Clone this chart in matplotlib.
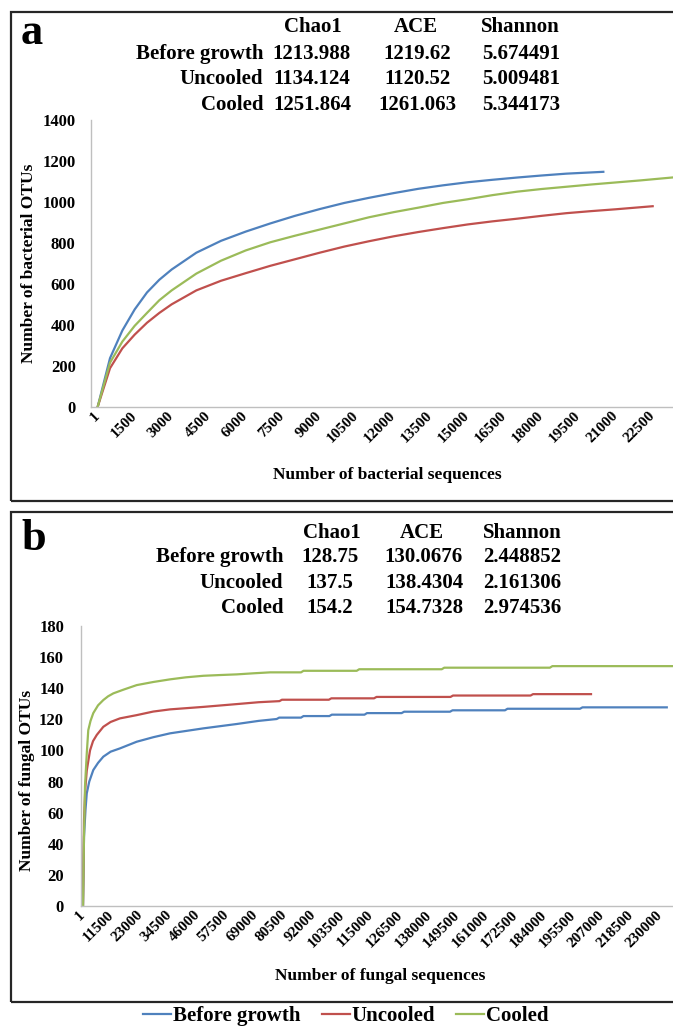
import matplotlib
matplotlib.use('Agg')
import matplotlib.pyplot as plt
from matplotlib.patches import Rectangle
from matplotlib.lines import Line2D

plt.rcParams['font.family'] = ['Liberation Serif', 'DejaVu Serif']
plt.rcParams['font.weight'] = 'bold'

W, H = 673, 1030

# ---------------- data ----------------
groups = ['Before growth', 'Uncooled', 'Cooled']
colors = ['#4F81BD', '#C0504D', '#9BBB59']
stat_cols = ['Chao1', 'ACE', 'Shannon']

bac_chao1 = ['1213.988', '1134.124', '1251.864']
bac_ace = ['1219.62', '1120.52', '1261.063']
bac_shannon = ['5.674491', '5.009481', '5.344173']

fun_chao1 = ['128.75', '137.5', '154.2']
fun_ace = ['130.0676', '138.4304', '154.7328']
fun_shannon = ['2.448852', '2.161306', '2.974536']

bac_ticks = [1, 1500, 3000, 4500, 6000, 7500, 9000, 10500, 12000, 13500,
             15000, 16500, 18000, 19500, 21000, 22500]
fun_ticks = [1, 11500, 23000, 34500, 46000, 57500, 69000, 80500, 92000, 103500,
             115000, 126500, 138000, 149500, 161000, 172500, 184000, 195500,
             207000, 218500, 230000]

bac_seq_before = [1, 500, 1000, 1500, 2000, 2500, 3000, 4000, 5000, 6000, 7000,
                  8000, 9000, 10000, 11000, 12000, 13000, 14000, 15000, 16000,
                  17000, 18000, 19000, 20000, 20500]
bac_otu_before = [0, 237, 372, 475, 558, 620, 670, 752, 810, 855, 895,
                  932, 965, 995, 1020, 1043, 1064, 1081, 1096, 1108,
                  1119, 1129, 1138, 1144, 1147]

bac_seq_uncooled = [1, 500, 1000, 1500, 2000, 2500, 3000, 4000, 5000, 6000, 7000,
                    8000, 9000, 10000, 11000, 12000, 13000, 14000, 15000, 16000,
                    17000, 18000, 19000, 20000, 21000, 22000, 22500]
bac_otu_uncooled = [0, 188, 285, 352, 410, 458, 500, 568, 615, 652, 688,
                    720, 752, 782, 808, 832, 853, 872, 890, 905,
                    918, 932, 945, 955, 964, 974, 979]

bac_seq_cooled = [1, 500, 1000, 1500, 2000, 2500, 3000, 4000, 5000, 6000, 7000,
                  8000, 9000, 10000, 11000, 12000, 13000, 14000, 15000, 16000,
                  17000, 18000, 19000, 20000, 21000, 22000, 23000, 24000]
bac_otu_cooled = [0, 215, 318, 395, 458, 520, 568, 650, 713, 763, 803,
                  835, 865, 895, 925, 950, 972, 995, 1013, 1033,
                  1050, 1063, 1074, 1085, 1095, 1105, 1116, 1127]

fun_seq_before = [1, 400, 1000, 1500, 2500, 4100, 6000, 8100, 11000, 14700,
                  21400, 28000, 34700, 48000, 61300, 70000, 77200, 78200,
                  86900, 87900, 98200, 99200, 112200, 113200, 127000, 128000,
                  146300, 147300, 168200, 169200, 198100, 199100, 232700]
fun_otu_before = [0, 44.5, 62, 72.4, 80, 87.4, 92, 96, 99.2, 101.3,
                  105.6, 108.5, 111, 114.2, 117, 119, 120.2, 121.1,
                  121.1, 122.1, 122.1, 123.0, 123.0, 124.0, 124.0, 124.9,
                  124.9, 125.8, 125.8, 126.8, 126.8, 127.7, 127.7]

fun_seq_uncooled = [1, 400, 900, 1500, 2800, 4000, 5500, 8100, 11000, 14700,
                    21400, 28000, 34700, 48000, 61300, 70000, 78300, 79300,
                    98000, 99000, 116000, 117000, 146500, 147500, 178400,
                    179400, 202500]
fun_otu_uncooled = [0, 55, 75, 87, 100, 106, 110, 115.2, 118.3, 120.6,
                    122.7, 125, 126.4, 128, 129.8, 131, 131.7, 132.6,
                    132.6, 133.5, 133.5, 134.4, 134.4, 135.3, 135.3,
                    136.2, 136.2]

fun_seq_cooled = [1, 400, 800, 1500, 2100, 3000, 4100, 6000, 8100, 10000, 12100,
                  16000, 21400, 28000, 34700, 41000, 48000, 55000, 61300, 68000,
                  74600, 86900, 87900, 109100, 110100, 143000, 144000, 186100,
                  187100, 236000]
fun_otu_cooled = [0, 45, 77, 98, 113, 119, 124, 129, 132.4, 134.8, 136.7,
                  139, 142, 144, 145.7, 147, 148, 148.5, 148.9, 149.6,
                  150.2, 150.2, 151.2, 151.2, 152.2, 152.2, 153.2, 153.2,
                  154.2, 154.2]


def fx(px):
    return px / W


def fy(py):
    return 1 - py / H


fig = plt.figure(figsize=(W / 100, H / 100), dpi=100)
fig.patch.set_facecolor('white')

# panel frames
for top, bottom in [(12, 501), (512, 1001.5)]:
    fig.patches.append(Rectangle((fx(11.5), fy(bottom)), fx(700), (bottom - top) / H,
                                 transform=fig.transFigure, fill=False,
                                 edgecolor='#262626', linewidth=1.6))


def make_axes(left, right, top, bottom):
    ax = fig.add_axes([fx(left), fy(bottom), fx(right - left), (bottom - top) / H])
    for s in ['top', 'right']:
        ax.spines[s].set_visible(False)
    for s in ['left', 'bottom']:
        ax.spines[s].set_color('#BFBFBF')
        ax.spines[s].set_linewidth(1.0)
    ax.tick_params(length=0, labelsize=11)
    ax.tick_params(axis='y', pad=11, labelsize=12)
    ax.tick_params(axis='x', pad=5)
    return ax


# ============ a: bacteria ============
ax1 = make_axes(91, 690, 120, 406.7)
for xs, ys, c in [(bac_seq_before, bac_otu_before, colors[0]),
                  (bac_seq_uncooled, bac_otu_uncooled, colors[1]),
                  (bac_seq_cooled, bac_otu_cooled, colors[2])]:
    ax1.plot(xs, ys, color=c, lw=1.6)
ax1.set_xlim(-271, 1 + (690 - 97.7) * 1500 / 37)
ax1.set_ylim(0, 1400)
ax1.set_yticks(range(0, 1401, 200))
ax1.set_xticks(bac_ticks)
ax1.set_xticklabels([str(t) for t in bac_ticks])
plt.setp(ax1.get_xticklabels(), rotation=45, ha='right', va='center',
         rotation_mode='anchor')

fig.text(fx(29.5), fy(263), 'Number of bacterial OTUs', rotation=90,
         ha='center', va='center', fontsize=12.5)
fig.text(fx(387), fy(475), 'Number of bacterial sequences',
         ha='center', va='center', fontsize=12.5)
fig.text(fx(21), fy(33), 'a', fontsize=32, ha='left', va='center')

# stats table a
hdr_a, rows_a = 27, [54, 79.5, 105]
for x, s in zip([313, 416, 520], stat_cols):
    fig.text(fx(x), fy(hdr_a), s, ha='center', va='center', fontsize=15)
for i, g in enumerate(groups):
    y = fy(rows_a[i])
    fig.text(fx(263), y, g, ha='right', va='center', fontsize=15)
    fig.text(fx(312), y, bac_chao1[i], ha='center', va='center', fontsize=15)
    fig.text(fx(417), y, bac_ace[i], ha='center', va='center', fontsize=15)
    fig.text(fx(521), y, bac_shannon[i], ha='center', va='center', fontsize=15)

# ============ b: fungi ============
ax2 = make_axes(80.7, 690, 626, 906)
for xs, ys, c in [(fun_seq_before, fun_otu_before, colors[0]),
                  (fun_seq_uncooled, fun_otu_uncooled, colors[1]),
                  (fun_seq_cooled, fun_otu_cooled, colors[2])]:
    ax2.plot(xs, ys, color=c, lw=1.6)
ax2.set_xlim(1 - 2.3 * 11500 / 28.85, 1 + (690 - 83) * 11500 / 28.85)
ax2.set_ylim(0, 180)
ax2.set_yticks(range(0, 181, 20))
ax2.set_xticks(fun_ticks)
ax2.set_xticklabels([str(t) for t in fun_ticks])
ax2.tick_params(axis='y', pad=12)
plt.setp(ax2.get_xticklabels(), rotation=45, ha='right', va='center',
         rotation_mode='anchor')

fig.text(fx(27), fy(780), 'Number of fungal OTUs', rotation=90,
         ha='center', va='center', fontsize=12.5)
fig.text(fx(380), fy(976), 'Number of fungal sequences',
         ha='center', va='center', fontsize=12.5)
fig.text(fx(21), fy(539), 'b', fontsize=32, ha='left', va='center')

hdr_b, rows_b = 533, [557, 583, 608]
for x, s in zip([332, 422, 522], stat_cols):
    fig.text(fx(x), fy(hdr_b), s, ha='center', va='center', fontsize=15)
for i, g in enumerate(groups):
    y = fy(rows_b[i])
    fig.text(fx(283), y, g, ha='right', va='center', fontsize=15)
    fig.text(fx(330), y, fun_chao1[i], ha='center', va='center', fontsize=15)
    fig.text(fx(424), y, fun_ace[i], ha='center', va='center', fontsize=15)
    fig.text(fx(522), y, fun_shannon[i], ha='center', va='center', fontsize=15)

# legend
handles = [Line2D([0], [0], color=c, lw=1.6) for c in colors]
fig.legend(handles, groups, loc='center', bbox_to_anchor=(fx(346), fy(1016)),
           ncol=3, frameon=False, fontsize=15, handlelength=1.35,
           handletextpad=0.1, columnspacing=1.0, borderaxespad=0, borderpad=0)

plt.savefig('out.png', dpi=100, facecolor='white')
plt.close()
